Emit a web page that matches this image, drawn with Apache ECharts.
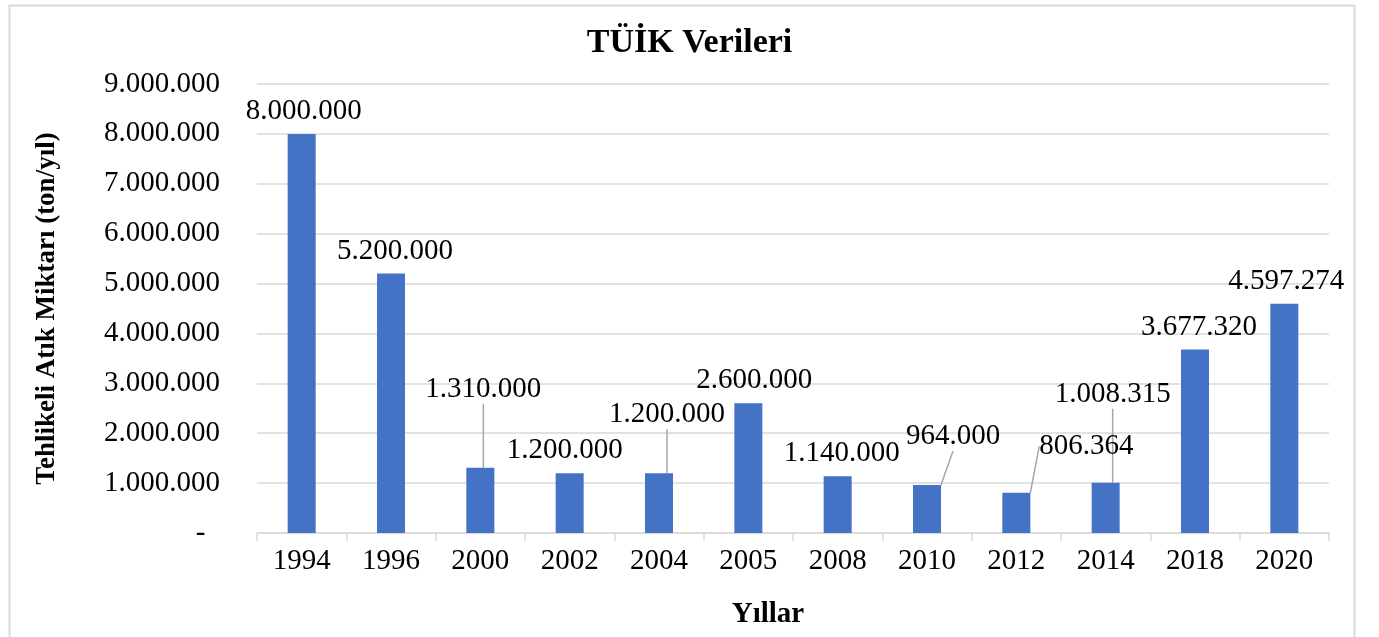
<!DOCTYPE html>
<html>
<head>
<meta charset="utf-8">
<script src="https://cdn.jsdelivr.net/npm/echarts@6/dist/echarts.min.js"></script>
<style>
html,body{margin:0;padding:0;background:#fff;}
#chart{width:1379px;height:637px;}
</style>
</head>
<body>
<div id="chart"></div>
<script>
const categories = ['1994','1996','2000','2002','2004','2005','2008','2010','2012','2014','2018','2020'];
const values = [8000000, 5200000, 1310000, 1200000, 1200000, 2600000, 1140000, 964000, 806364, 1008315, 3677320, 4597274];
const yTicks = [0, 1000000, 2000000, 3000000, 4000000, 5000000, 6000000, 7000000, 8000000, 9000000];
const titleText = 'TÜİK Verileri';
const xName = 'Yıllar';
const yName = 'Tehlikeli Atık Miktarı (ton/yıl)';

// label displacement (styling), by category index
const labelShift = {
  0: [2, 0], 1: [4, 0], 2: [3, -56], 3: [-5, 0], 4: [8, -36], 5: [6, 0], 6: [4, 0],
  7: [26, -26], 8: [70, -24], 9: [7, -66], 10: [4, 0], 11: [2, 0]
};
const withLeader = [2, 4, 7, 8, 9];

const FONT = '"Liberation Serif", "Times New Roman", serif';
function fmt(v) {
  if (v === 0) return '-  ';
  return String(Math.round(v)).replace(/\B(?=(\d{3})+(?!\d))/g, '.');
}

const chart = echarts.init(document.getElementById('chart'));
chart.setOption({
  animation: false,
  backgroundColor: '#fff',
  graphic: [{
    type: 'rect', left: 7, top: 3, silent: true,
    shape: { width: 1345, height: 660 },
    style: { fill: 'none', stroke: '#d9d9d9', lineWidth: 2 }
  }],
  title: {
    text: titleText, left: 'center', top: 21,
    textStyle: { fontFamily: FONT, fontWeight: 'bold', fontSize: 34, color: '#000' }
  },
  grid: { left: 257, right: 50, top: 84, bottom: 104, containLabel: false },
  xAxis: {
    type: 'category', data: categories,
    name: xName, nameLocation: 'middle', nameGap: 67,
    nameTextStyle: { fontFamily: FONT, fontWeight: 'bold', fontSize: 29, color: '#000', padding: [0, 50, 0, 0] },
    axisLine: { lineStyle: { color: '#d9d9d9', width: 1.5 } },
    axisTick: { show: true, alignWithLabel: false, length: 8, lineStyle: { color: '#d9d9d9', width: 1.5 } },
    axisLabel: { fontFamily: FONT, fontSize: 29, color: '#000', margin: 14, interval: 0 }
  },
  yAxis: {
    type: 'value', min: 0, max: 9000000, interval: 1000000,
    name: yName, nameLocation: 'middle', nameGap: 196, nameRotate: 90,
    nameTextStyle: { fontFamily: FONT, fontWeight: 'bold', fontSize: 27, color: '#000' },
    axisLine: { show: false }, axisTick: { show: false },
    splitLine: { lineStyle: { color: '#d9d9d9', width: 1.5 } },
    axisLabel: { fontFamily: FONT, fontSize: 29, color: '#000', margin: 37, formatter: fmt }
  },
  series: [{
    type: 'bar',
    barWidth: 28,
    itemStyle: { color: '#4472c4' },
    label: {
      show: true, position: 'top', distance: 8,
      fontFamily: FONT, fontSize: 29, color: '#000',
      formatter: p => fmt(p.value)
    },
    labelLine: { show: false },
    labelLayout: function (params) {
      const s = labelShift[params.dataIndex];
      return s ? { dx: s[0], dy: s[1] } : {};
    },
    data: values.map((v, i) => withLeader.indexOf(i) >= 0
      ? { value: v, labelLine: { show: true, lineStyle: { color: '#a6a6a6', width: 1.5 } } }
      : { value: v })
  }]
});
</script>
</body>
</html>
